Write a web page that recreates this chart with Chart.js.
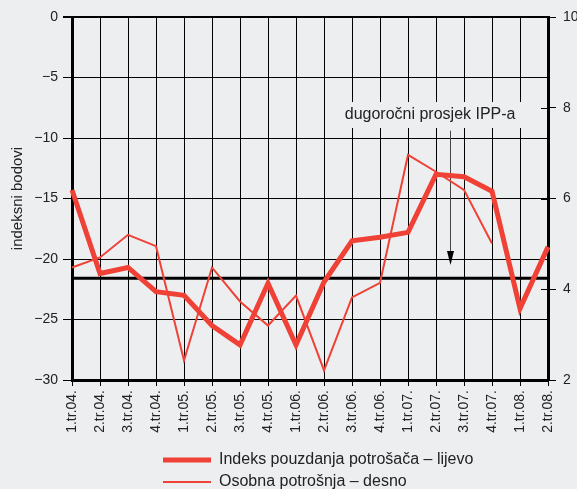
<!DOCTYPE html>
<html>
<head>
<meta charset="utf-8">
<script src="https://cdn.jsdelivr.net/npm/chart.js@4.4.1/dist/chart.umd.min.js"></script>
<style>
  html, body { margin: 0; padding: 0; background: #edeef0; }
  #wrap { width: 577px; height: 489px; position: relative; }
</style>
</head>
<body>
<div id="wrap"><canvas id="chart"></canvas></div>
<script>
// quarters 2004 - 2008
const quarters = [
  "1.tr.04.", "2.tr.04.", "3.tr.04.", "4.tr.04.",
  "1.tr.05.", "2.tr.05.", "3.tr.05.", "4.tr.05.",
  "1.tr.06.", "2.tr.06.", "3.tr.06.", "4.tr.06.",
  "1.tr.07.", "2.tr.07.", "3.tr.07.", "4.tr.07.",
  "1.tr.08.", "2.tr.08."
];
// left axis, index points
const confidenceIndex = [
  -14.3, -21.2, -20.7, -22.7, -23.0, -25.5, -27.1, -22.0, -27.1,
  -21.9, -18.5, -18.2, -17.8, -13.0, -13.2, -14.4, -24.1, -19.0
];
// right axis
const personalConsumption = [
  4.48, 4.70, 5.20, 4.95, 2.43, 4.48, 3.73, 3.20, 3.86,
  2.21, 3.82, 4.14, 6.96, 6.59, 6.19, 5.01, null, null
];
const longTermAverage = -21.6;

const leftMin = -30, leftMax = 0, leftStep = 5;
const rightMin = 2, rightMax = 10, rightStep = 2;

const bg = "#edeef0";
const red = "#ef4136";
const ink = "#222";
const fontFamily = '"Liberation Sans", Arial, sans-serif';

Chart.defaults.font.family = fontFamily;
Chart.defaults.color = ink;

// annotation for the long-term average
const note = {
  text: "dugoročni prosjek IPP-a",
  x: 12.79, y: -8.1,
  arrowX: 13.5, arrowFrom: -9.4, arrowTo: -20.5
};

const notePlugin = {
  id: "note",
  beforeDatasetsDraw(chart) {
    const { ctx, chartArea, scales } = chart;
    const x = scales.x, y = scales.y, y1 = scales.y1;
    ctx.save();

    // right axis ticks also reach a bit inside the plot
    ctx.strokeStyle = "#000";
    ctx.lineWidth = 1;
    y1.ticks.forEach(function (t) {
      const py = Math.round(y1.getPixelForValue(t.value)) + 0.5;
      ctx.beginPath();
      ctx.moveTo(chartArea.right - 7, py);
      ctx.lineTo(chartArea.right, py);
      ctx.stroke();
    });

    // text box
    ctx.font = "16px " + fontFamily;
    const tx = x.getPixelForValue(note.x);
    const ty = y.getPixelForValue(note.y);
    const w = ctx.measureText(note.text).width;
    ctx.fillStyle = bg;
    ctx.fillRect(tx - w / 2 - 7, ty - 13, w + 14, 26);
    ctx.fillStyle = ink;
    ctx.textAlign = "center";
    ctx.textBaseline = "middle";
    ctx.fillText(note.text, tx, ty);

    // arrow
    const ax = Math.round(x.getPixelForValue(note.arrowX)) + 0.5;
    const a0 = y.getPixelForValue(note.arrowFrom);
    const a1 = y.getPixelForValue(note.arrowTo);
    ctx.strokeStyle = "#444";
    ctx.beginPath();
    ctx.moveTo(ax, a0);
    ctx.lineTo(ax, a1 - 12);
    ctx.stroke();
    ctx.fillStyle = "#000";
    ctx.beginPath();
    ctx.moveTo(ax - 3.5, a1 - 14);
    ctx.lineTo(ax + 3.5, a1 - 14);
    ctx.lineTo(ax, a1);
    ctx.closePath();
    ctx.fill();

    ctx.restore();
  }
};

// legend sits under the plot, left edge a bit right of the plot's
const legendPlace = {
  id: "legendPlace",
  afterLayout(chart) {
    const lg = chart.legend;
    const dx = chart.chartArea.left + 85 - lg.left;
    const dy = chart.chartArea.bottom + 66 - lg.top;
    lg.left += dx; lg.right += dx;
    lg.top += dy; lg.bottom += dy;
  }
};

const minusLabel = (v) => (v < 0 ? "\u2212" + Math.abs(v) : String(v));

new Chart(document.getElementById("chart"), {
  type: "line",
  data: {
    labels: quarters,
    datasets: [
      {
        label: "Indeks pouzdanja potrošača \u2013 lijevo",
        data: confidenceIndex,
        yAxisID: "y",
        borderColor: red,
        backgroundColor: red,
        borderWidth: 5,
        pointRadius: 0,
        tension: 0,
      },
      {
        label: "Osobna potrošnja \u2013 desno",
        data: personalConsumption,
        yAxisID: "y1",
        borderColor: red,
        backgroundColor: red,
        borderWidth: 2,
        pointRadius: 0,
        tension: 0,
      },
      {
        label: "dugoročni prosjek",
        data: quarters.map(() => longTermAverage),
        yAxisID: "y",
        borderColor: "#000",
        borderWidth: 3,
        pointRadius: 0,
      },
    ],
  },
  options: {
    responsive: true,
    maintainAspectRatio: false,
    animation: false,
    layout: { padding: { top: 17, left: 0, right: 0, bottom: 0 } },
    plugins: {
      tooltip: { enabled: false },
      legend: {
        position: "bottom",
        align: "start",
        fullSize: false,
        labels: {
          boxWidth: 48,
          boxHeight: 0,
          padding: 6,
          color: ink,
          font: { size: 16 },
          filter: (item) => item.datasetIndex < 2,
        },
      },
    },
    scales: {
      x: {
        grid: { color: "#000", lineWidth: 1, tickLength: 6, tickColor: "#000" },
        border: { color: "#000", width: 3 },
        ticks: {
          autoSkip: false,
          maxRotation: 90,
          minRotation: 90,
          padding: 4,
          color: ink,
          font: { size: 14 },
        },
        afterFit: (s) => { s.height = 55; },
      },
      y: {
        position: "left",
        min: leftMin,
        max: leftMax,
        ticks: { stepSize: leftStep, padding: 5, color: ink, font: { size: 14 }, callback: minusLabel },
        grid: {
          color: "#000",
          tickColor: "#000",
          tickLength: 9,
          lineWidth: (c) => (c.tick && c.tick.value === leftMax ? 2 : 1),
        },
        border: { color: "#000", width: 3 },
        title: {
          display: true,
          text: "indeksni bodovi",
          color: ink,
          font: { size: 15 },
          padding: { top: 9, bottom: 0 },
        },
        afterFit: (s) => { s.width = 72; },
      },
      y1: {
        position: "right",
        min: rightMin,
        max: rightMax,
        ticks: { stepSize: rightStep, padding: 7, color: ink, font: { size: 14 } },
        grid: { drawOnChartArea: false, tickLength: 8, color: "#000" },
        border: { color: "#000", width: 3 },
        afterFit: (s) => { s.width = 29; },
      },
    },
  },
  plugins: [notePlugin, legendPlace],
});
</script>
</body>
</html>
